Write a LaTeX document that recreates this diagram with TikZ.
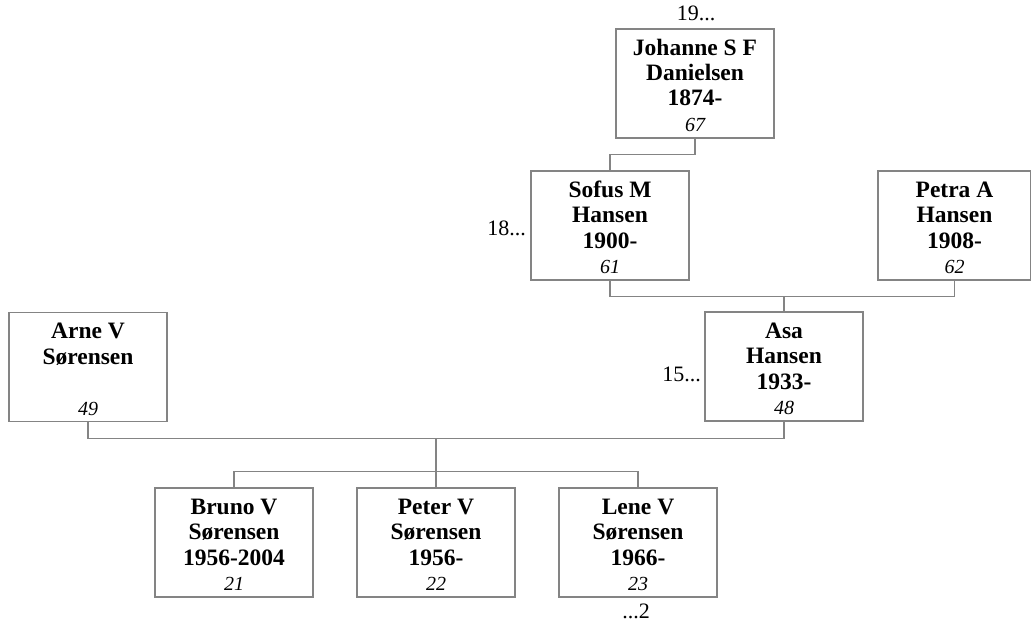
\documentclass[tikz,border=0pt]{standalone}
\usepackage{fontspec}
\setmainfont{Liberation Serif}
\usetikzlibrary{calc}
\definecolor{linegray}{HTML}{848484}
\newcommand\rowstrut{\rule[-3pt]{0pt}{25.5pt}}
\newcommand\card[4]{\renewcommand\arraystretch{0}\begin{tabular}{@{}c@{}}\rowstrut\bfseries #1\\ \rowstrut\bfseries #2\\ \rowstrut\bfseries #3\\ \rowstrut\itshape\fontsize{20}{24}\selectfont #4\end{tabular}}
\tikzset{
  person/.style={draw=linegray, line width=1.2pt, fill=white, inner sep=0pt,
    minimum width=158pt, minimum height=109pt, font=\fontsize{23.5}{26}\selectfont},
  conn/.style={draw=linegray, line width=1.2pt},
  lab/.style={inner sep=0pt, font=\fontsize{22}{24}\selectfont}
}
\begin{document}
\begin{tikzpicture}[x=1pt,y=-1pt]
\useasboundingbox (0,0) rectangle (1031,626);
% persons (center x, center y)
\node[person] (jo) at (695,83.5) {\card{Johanne S F}{Danielsen}{1874-}{67}};
\node[person] (so) at (610,225.5) {\card{Sofus M}{Hansen}{1900-}{61}};
\node[person, minimum width=153pt] (pe) at (954.5,225.5) {\card{Petra A}{Hansen}{1908-}{62}};
\node[person] (ar) at (88,367) {\card{Arne V}{Sørensen}{}{49}};
\node[person] (as) at (784,366.5) {\card{Asa}{Hansen}{1933-}{48}};
\node[person] (br) at (234,542.5) {\card{Bruno V}{Sørensen}{1956-2004}{21}};
\node[person] (pt) at (436,542.5) {\card{Peter V}{Sørensen}{1956-}{22}};
\node[person] (le) at (638,542.5) {\card{Lene V}{Sørensen}{1966-}{23}};
% labels
\node[lab] (t19) at (696,13) {19...};
\node[lab, anchor=east] (t18) at (526,228) {18...};
\node[lab, anchor=east] (t15) at (701,374) {15...};
\node[lab] (t2) at (636,611) {...2};
% bar coordinates
\coordinate (jbar) at ([yshift=16pt]so.north);
\coordinate (spbar) at ([yshift=-16pt]so.south);
\coordinate (pbar) at ([yshift=-16pt]ar.south);
\coordinate (cbar) at ([yshift=16pt]pt.north);
% connectors
\draw[conn] (jo.south) -- (jo.south |- jbar) -| (so.north);
\draw[conn] (so.south) -- (spbar) -| (pe.south);
\draw[conn] (as.north) -- (as.north |- spbar);
\draw[conn] (ar.south) -- (pbar) -| (as.south);
\draw[conn] (pbar -| pt.north) -- (pt.north);
\draw[conn] (br.north) |- (cbar -| le.north) -- (le.north);
\end{tikzpicture}
\end{document}
